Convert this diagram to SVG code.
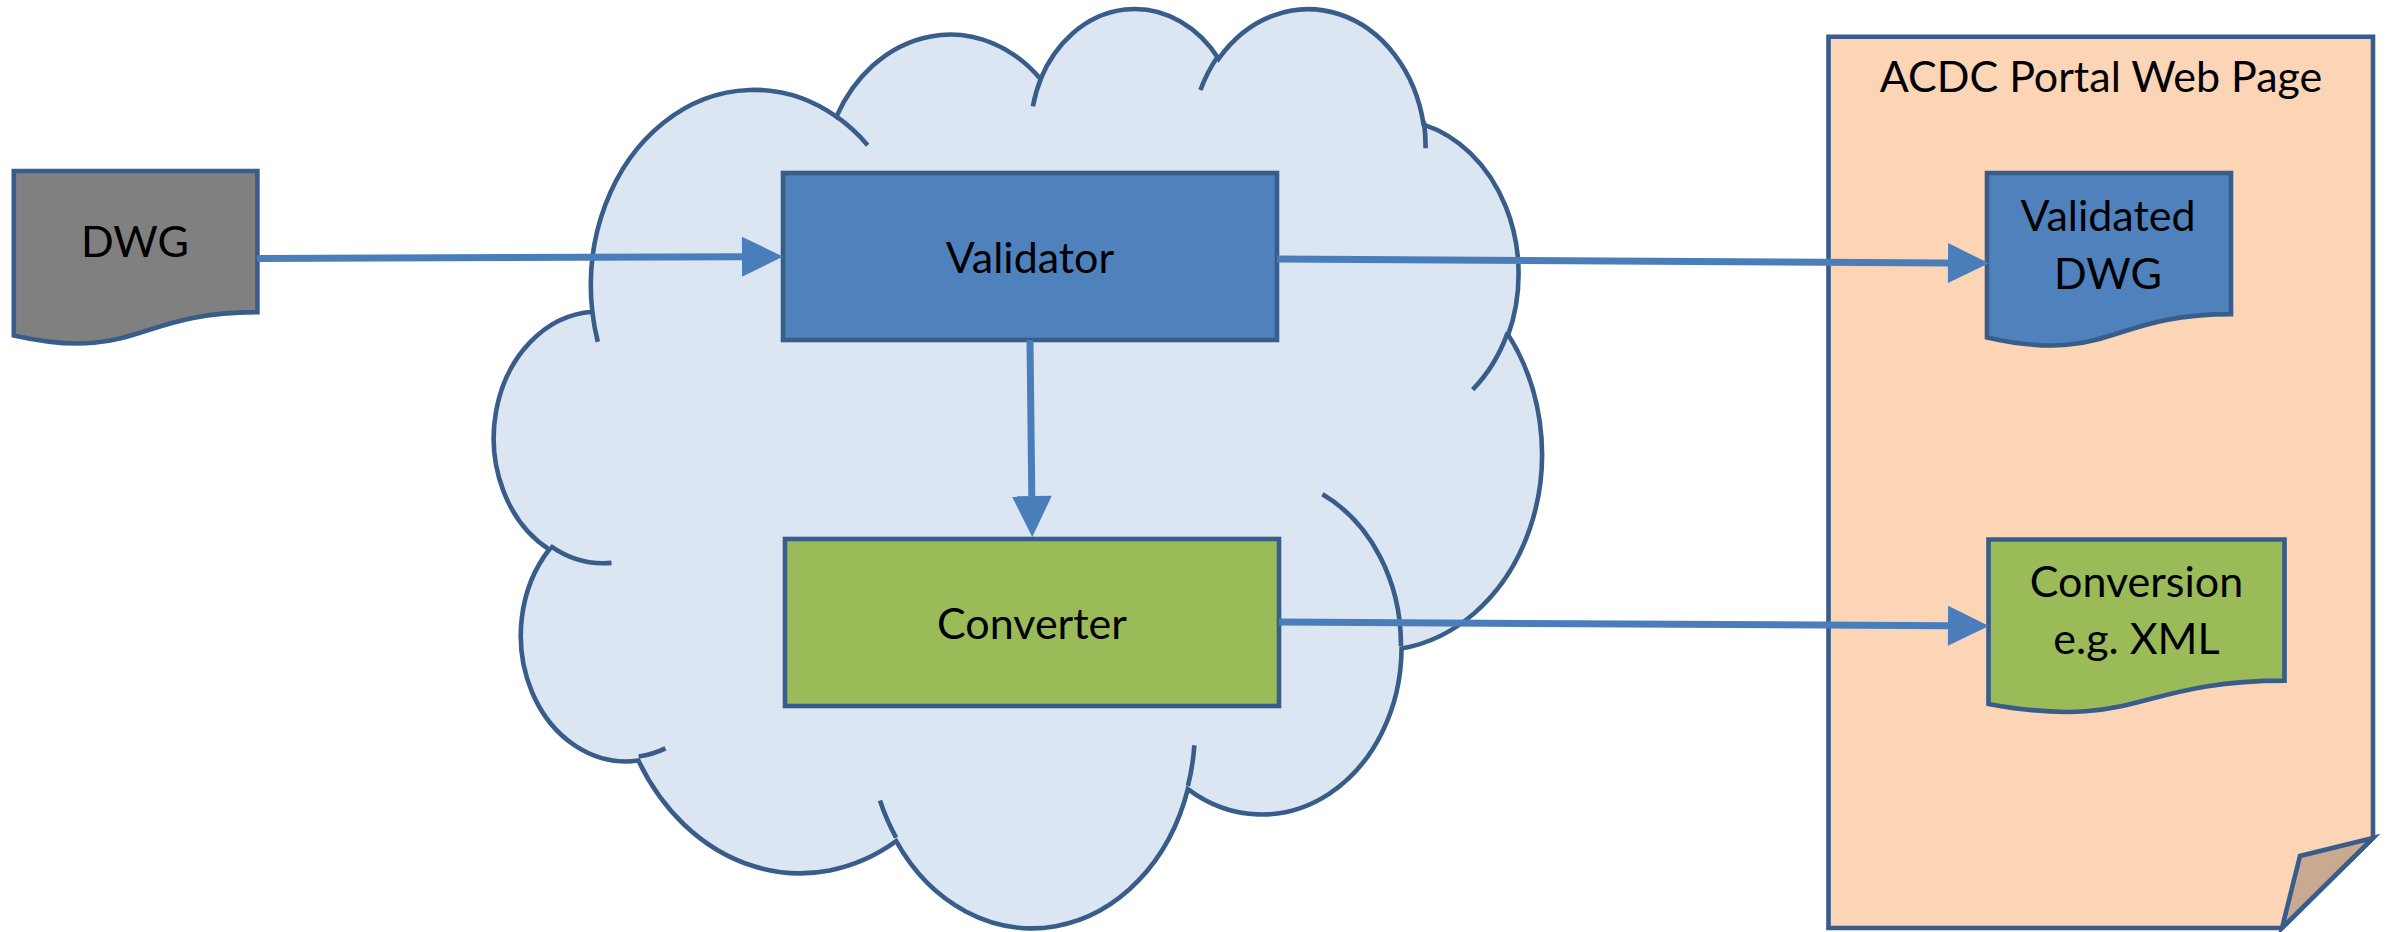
<svg xmlns="http://www.w3.org/2000/svg" width="2387" height="932" viewBox="0 0 2387 932">
<style>
.ol{stroke:#385D8A;stroke-width:4.6;stroke-linejoin:miter}
.txt{font-family:Lato,"Liberation Sans",sans-serif;font-size:43px;fill:#000;text-anchor:middle}
.con{fill:none;stroke:#4A7EBB;stroke-width:7}
</style>
<defs>
<marker id="ah" markerUnits="userSpaceOnUse" viewBox="0 -20 41 40" refX="0" refY="0" markerWidth="41" markerHeight="40" orient="auto" overflow="visible">
<path d="M0,-20 L41,0 L0,20 Z" fill="#4A7EBB"/>
</marker>
</defs>
<rect width="2387" height="932" fill="#fff"/>
<g id="cloud" transform="translate(498.14,6.01) scale(0.024152,0.021272)">
<path fill="#DCE6F2" stroke="#385D8A" stroke-width="4.6" vector-effect="non-scaling-stroke" d="M3900,14370 A6753,9190 0 0,1 14005.7,5202.6 A5333,7267 0 0,1 22457,3431.7 A4365,5945 0 0,1 29833.9,2480.3 A4857,6595 0 0,1 38319,5575.6 A5333,7273 0 0,1 41819.3,15459.4 A6775,9220 0 0,1 37405.3,30202.8 A5785,7867 0 0,1 28557,36813 A6752,9215 0 0,1 16481.4,39264 A7720,10543 0 0,1 5805.9,35469.9 A4360,5918 0 0,1 2114.6,25548 A4345,5945 0 0,1 3900,14370 Z"/>
<path fill="none" stroke="#385D8A" stroke-width="4.6" vector-effect="non-scaling-stroke" d="M4693,26177 A4345,5945 0 0,1 2159.8,25380 M6928,34899 A4360,5918 0 0,1 5819.6,35280.4 M16478,39090 A6752,9215 0 0,1 15810.2,37349.9 M28827,34751 A6752,9215 0 0,1 28560.4,36660.4 M34129,22954 A5785,7867 0 0,1 37380.5,30089.6 M41798,15354 A5333,7273 0 0,1 40350.2,18029.8 M38324,5426 A4857,6595 0 0,1 38400.4,6689.7 M29078,3952 A4857,6595 0 0,1 29819.7,2340.4 M22141,4720 A4365,5945 0 0,1 22500.2,3330.2 M14000,5192 A6753,9190 0 0,1 15299.8,6540.3 M4127,15789 A6753,9190 0 0,1 3900.2,14370.4"/>
</g>
<g id="page">
<path class="ol" fill="#FBD5B5" d="M1828.5,36.8 H2373 V838 L2282,928 H1828.5 Z"/>
<path class="ol" fill="#C9AA91" d="M2282,928 L2300,856 L2373,838 Z"/>
<text class="txt" x="2101" y="92">ACDC Portal Web Page</text>
</g>
<g id="dwg">
<path class="ol" fill="#808080" d="M13.8,171 H257.4 V312.1 C135.6,312.1 135.6,362.8 13.8,335.4 Z"/>
<text class="txt" x="135" y="257">DWG</text>
</g>
<g id="validator">
<rect class="ol" fill="#4F81BD" x="783" y="173" width="494" height="167"/>
<text class="txt" x="1030" y="273">Validator</text>
</g>
<g id="converter">
<rect class="ol" fill="#9BBB59" x="785" y="539" width="494" height="167"/>
<text class="txt" x="1032" y="639">Converter</text>
</g>
<g id="validated">
<path class="ol" fill="#4F81BD" d="M1987,173 H2231 V314.1 C2109,314.1 2109,364.8 1987,337.4 Z"/>
<text class="txt" x="2108" y="231">Validated</text>
<text class="txt" x="2108" y="289">DWG</text>
</g>
<g id="conversion">
<path class="ol" fill="#9BBB59" d="M1988.5,539.5 H2284.5 V680.6 C2136.5,680.6 2136.5,731.3 1988.5,703.9 Z"/>
<text class="txt" x="2136.5" y="596.5">Conversion</text>
<text class="txt" x="2136.5" y="654">e.g. XML</text>
</g>
<g id="connectors">
<path class="con" marker-end="url(#ah)" d="M257,258.5 L742,256.7"/>
<path class="con" marker-end="url(#ah)" d="M1277,259 L1948,263.1"/>
<path class="con" marker-end="url(#ah)" d="M1279,622 L1948,625.8"/>
<path class="con" marker-end="url(#ah)" d="M1030,340 L1031.8,496"/>
</g>
</svg>
